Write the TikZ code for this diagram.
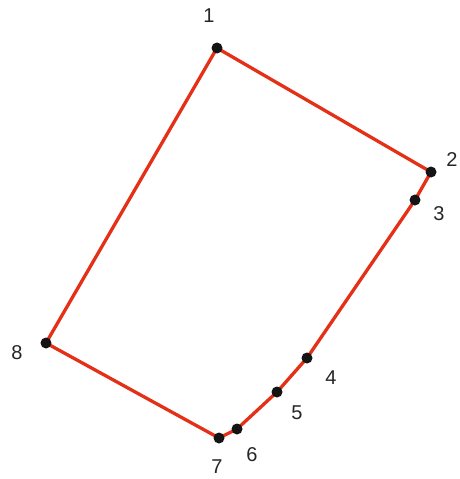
\documentclass[tikz,border=0pt]{standalone}
\usepackage{fontspec}
\setmainfont{Liberation Sans}
\usepackage{tikz}
\definecolor{polyred}{RGB}{228,48,22}
\definecolor{dotgray}{RGB}{20,20,20}

\begin{document}
\begin{tikzpicture}[x=1pt,y=-1pt,
  edge/.style={draw=polyred,line width=3.3pt,line join=round},
  dot/.style={circle,fill=dotgray,inner sep=0pt,minimum size=11pt},
  lbl/.style={font=\fontsize{20}{20}\selectfont,text=black!85,inner sep=0pt}]
\useasboundingbox (0,0) rectangle (459,479);

% --- corner points
\foreach \n/\x/\y in {1/217/48, 2/431/172, 3/415/200, 4/307/358,
                      5/277/392, 6/237/429, 7/219/438, 8/46/343}{
  \coordinate (p\n) at (\x,\y);
}

% --- outline
\draw[edge] (p1) -- (p2) -- (p3) -- (p4) -- (p5) -- (p6) -- (p7) -- (p8) -- cycle;

% --- dots and numbers
\foreach \n/\lx/\ly in {1/209/16, 2/452/160, 3/439/214, 4/331/378,
                        5/297/413, 6/252/455, 7/217/467, 8/17/353}{
  \node[dot] (d\n) at (p\n) {};
  \node[lbl] (l\n) at (\lx,\ly) {\n};
}
\end{tikzpicture}
\end{document}
